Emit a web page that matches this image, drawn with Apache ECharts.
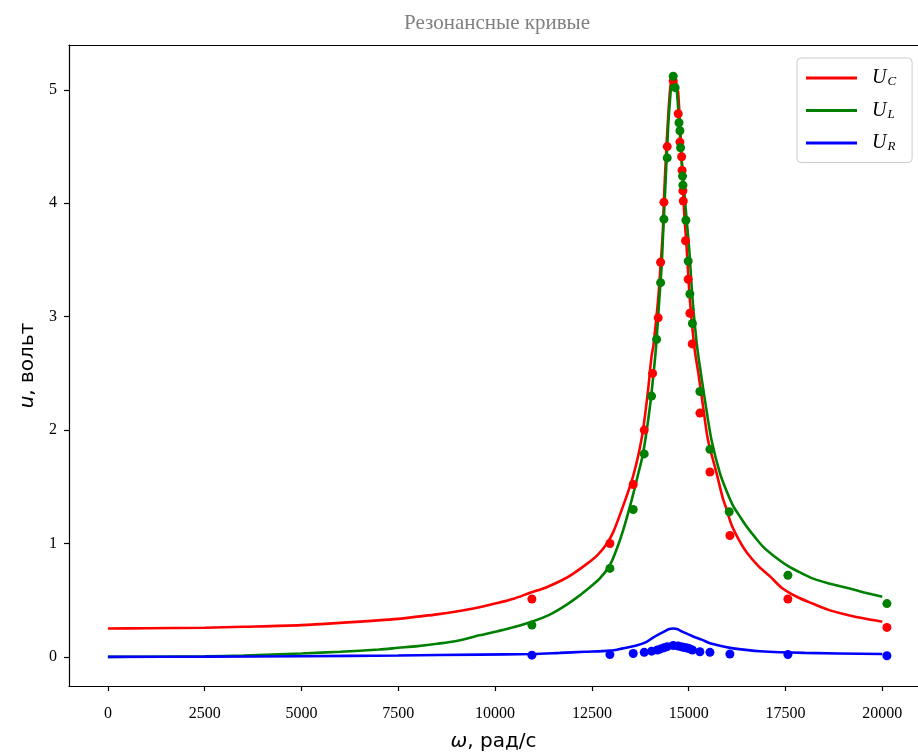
<!DOCTYPE html>
<html>
<head>
<meta charset="utf-8">
<script src="https://cdn.jsdelivr.net/npm/echarts@6/dist/echarts.min.js"></script>
<style>html,body{margin:0;padding:0;background:#fff;}#c{width:918px;height:754px;}</style>
</head>
<body>
<div id="c"></div>
<script>
// ---- data ----
const titleText = 'Резонансные кривые';
const xTicks = [0, 2500, 5000, 7500, 10000, 12500, 15000, 17500, 20000];
const yTicks = [0, 1, 2, 3, 4, 5];

// theoretical curves [omega, U]
const curveC = [[0,0.25],[1000,0.252],[2500,0.257],[3500,0.265],[5000,0.28],[6000,0.30],[7500,0.335],[8000,0.355],[8500,0.375],[9000,0.40],[9500,0.43],[10000,0.47],[10500,0.515],[10900,0.565],[11300,0.61],[11750,0.68],[12000,0.73],[12370,0.82],[12650,0.90],[12890,1.00],[13050,1.10],[13220,1.25],[13430,1.45],[13570,1.60],[13700,1.78],[13820,2.0],[13950,2.35],[14040,2.65],[14090,2.75],[14210,3.15],[14270,3.44],[14330,3.74],[14360,4.03],[14430,4.53],[14510,4.97],[14550,5.08],[14600,5.13],[14650,5.09],[14690,5.04],[14730,4.97],[14820,4.38],[14880,3.94],[14950,3.59],[15030,3.15],[15150,2.72],[15250,2.50],[15370,2.21],[15500,1.91],[15720,1.62],[15880,1.40],[15980,1.30],[16100,1.17],[16300,1.03],[16500,0.92],[16800,0.80],[17100,0.71],[17400,0.61],[17790,0.53],[18200,0.47],[18650,0.41],[19100,0.37],[19510,0.34],[20000,0.31]];
const curveL = [[0,0],[1000,0.001],[2500,0.005],[3500,0.012],[5000,0.03],[6000,0.045],[7000,0.065],[7500,0.08],[8000,0.095],[8500,0.115],[9000,0.14],[9600,0.19],[10300,0.245],[10950,0.31],[11400,0.37],[11760,0.44],[12100,0.52],[12360,0.59],[12700,0.69],[12965,0.81],[13150,0.96],[13310,1.12],[13540,1.40],[13700,1.62],[13825,1.80],[14000,2.21],[14110,2.56],[14160,2.75],[14240,3.15],[14300,3.44],[14340,3.74],[14385,4.06],[14470,4.68],[14530,4.97],[14565,5.09],[14600,5.13],[14650,5.10],[14700,4.97],[14817,4.38],[14915,3.98],[15014,3.59],[15100,3.15],[15212,2.75],[15315,2.50],[15444,2.21],[15590,1.91],[15806,1.62],[15980,1.46],[16150,1.33],[16300,1.25],[16495,1.15],[16700,1.06],[16924,0.97],[17200,0.89],[17570,0.80],[17900,0.74],[18215,0.69],[18600,0.65],[19078,0.61],[19500,0.57],[20000,0.53]];
const curveR = [[0,0],[2500,0.002],[5000,0.006],[7500,0.012],[9600,0.02],[10950,0.025],[11670,0.035],[12300,0.045],[12965,0.055],[13300,0.075],[13650,0.10],[13900,0.13],[14080,0.17],[14350,0.22],[14500,0.245],[14600,0.25],[14700,0.245],[14850,0.22],[15116,0.18],[15350,0.15],[15550,0.12],[15850,0.095],[16150,0.075],[16840,0.05],[18000,0.035],[20000,0.025]];

// measured points [omega, U]
const pointsC = [[10950,0.51],[12965,1.00],[13567,1.52],[13851,2.00],[14068,2.50],[14212,2.99],[14274,3.48],[14360,4.01],[14445,4.50],[14600,5.08],[14729,4.79],[14773,4.54],[14817,4.41],[14830,4.29],[14850,4.11],[14860,4.02],[14918,3.67],[14987,3.33],[15031,3.03],[15090,2.76],[15289,2.15],[15548,1.63],[16064,1.07],[17562,0.51],[20119,0.26]];
const pointsL = [[10950,0.28],[12965,0.78],[13567,1.30],[13851,1.79],[14042,2.30],[14171,2.80],[14274,3.30],[14360,3.86],[14445,4.40],[14600,5.12],[14650,5.02],[14750,4.71],[14773,4.64],[14790,4.49],[14840,4.24],[14850,4.16],[14928,3.85],[14987,3.49],[15031,3.20],[15096,2.94],[15289,2.34],[15548,1.83],[16046,1.28],[17562,0.72],[20119,0.47]];
const pointsR = [[10950,0.015],[12965,0.02],[13567,0.03],[13851,0.04],[14042,0.05],[14190,0.06],[14274,0.07],[14360,0.08],[14445,0.09],[14600,0.10],[14729,0.095],[14800,0.09],[14860,0.085],[14928,0.08],[14987,0.075],[15031,0.07],[15096,0.06],[15289,0.045],[15548,0.04],[16064,0.025],[17562,0.02],[20119,0.01]];

const names = ['UC', 'UL', 'UR'];
const subs = {UC: 'C', UL: 'L', UR: 'R'};
const colors = ['#ff0000', '#008000', '#0000ff'];

const serif = 'Liberation Serif';
const chart = echarts.init(document.getElementById('c'), null, {renderer: 'canvas'});

function lineSeries(name, data, color) {
  return {name, type: 'line', data, showSymbol: false, symbol: 'none', smooth: 0.3,
    lineStyle: {color, width: 2.6}, itemStyle: {color}, z: 2};
}
function scatterSeries(name, data, color) {
  return {name, type: 'scatter', data, symbol: 'circle', symbolSize: 9,
    itemStyle: {color, opacity: 1}, z: 3};
}
const xMin = -1005, xMax = 20922;
const nameStyle = {fontFamily: 'DejaVu Sans', fontSize: 20, color: '#000', rich: {i: {fontFamily: 'DejaVu Sans', fontStyle: 'italic', fontSize: 20, color: '#000'}}};

chart.setOption({
  animation: false,
  backgroundColor: '#ffffff',
  grid: {left: 69, right: 0, top: 45, bottom: 68, containLabel: false, outerBoundsMode: 'none'},
  graphic: [{type: 'text', x: 497, y: 23, style: {text: titleText, fontSize: 21, fontFamily: serif, fill: '#808080', align: 'center', verticalAlign: 'middle'}}],
  legend: {
    orient: 'vertical', left: 797, top: 58, data: names,
    padding: [10, 16, 9, 9], itemGap: 12, itemWidth: 51, itemHeight: 3, icon: 'rect',
    backgroundColor: '#fff', borderColor: '#cccccc', borderWidth: 1, borderRadius: 4,
    formatter: n => '{u|U}{s|' + subs[n] + '}',
    textStyle: {rich: {
      u: {fontFamily: serif, fontStyle: 'italic', fontSize: 20, color: '#000', padding: [0, 0, 0, 10]},
      s: {fontFamily: serif, fontStyle: 'italic', fontSize: 13, color: '#000', padding: [8, 0, 0, 1]}
    }}
  },
  xAxis: [{
    type: 'value', min: xMin, max: xMax,
    name: '{i|ω}, рад/с', nameLocation: 'middle', nameGap: 46, nameTextStyle: nameStyle,
    axisLine: {show: true, onZero: false, lineStyle: {color: '#000', width: 1.2}},
    axisTick: {show: true, inside: false, length: 5, customValues: xTicks, lineStyle: {color: '#000', width: 1.2}},
    axisLabel: {customValues: xTicks, formatter: v => String(v), fontFamily: serif, fontSize: 16, color: '#000', margin: 20},
    splitLine: {show: false}
  }, {
    type: 'value', min: xMin, max: xMax, position: 'top',
    axisLine: {show: true, onZero: false, lineStyle: {color: '#000', width: 1.2}},
    axisTick: {show: false}, axisLabel: {show: false}, splitLine: {show: false}
  }],
  yAxis: {
    type: 'value', min: -0.257, max: 5.396,
    name: '{i|u}, вольт', nameLocation: 'middle', nameGap: 31, nameRotate: 90, nameTextStyle: nameStyle,
    axisLine: {show: true, onZero: false, lineStyle: {color: '#000', width: 1.2}},
    axisTick: {show: true, inside: false, length: 5, customValues: yTicks, lineStyle: {color: '#000', width: 1.2}},
    axisLabel: {customValues: yTicks, fontFamily: serif, fontSize: 16, color: '#000', margin: 12},
    splitLine: {show: false}
  },
  series: [
    lineSeries(names[0], curveC, colors[0]),
    lineSeries(names[1], curveL, colors[1]),
    lineSeries(names[2], curveR, colors[2]),
    scatterSeries('pC', pointsC, colors[0]),
    scatterSeries('pL', pointsL, colors[1]),
    scatterSeries('pR', pointsR, colors[2])
  ]
});
</script>
</body>
</html>
